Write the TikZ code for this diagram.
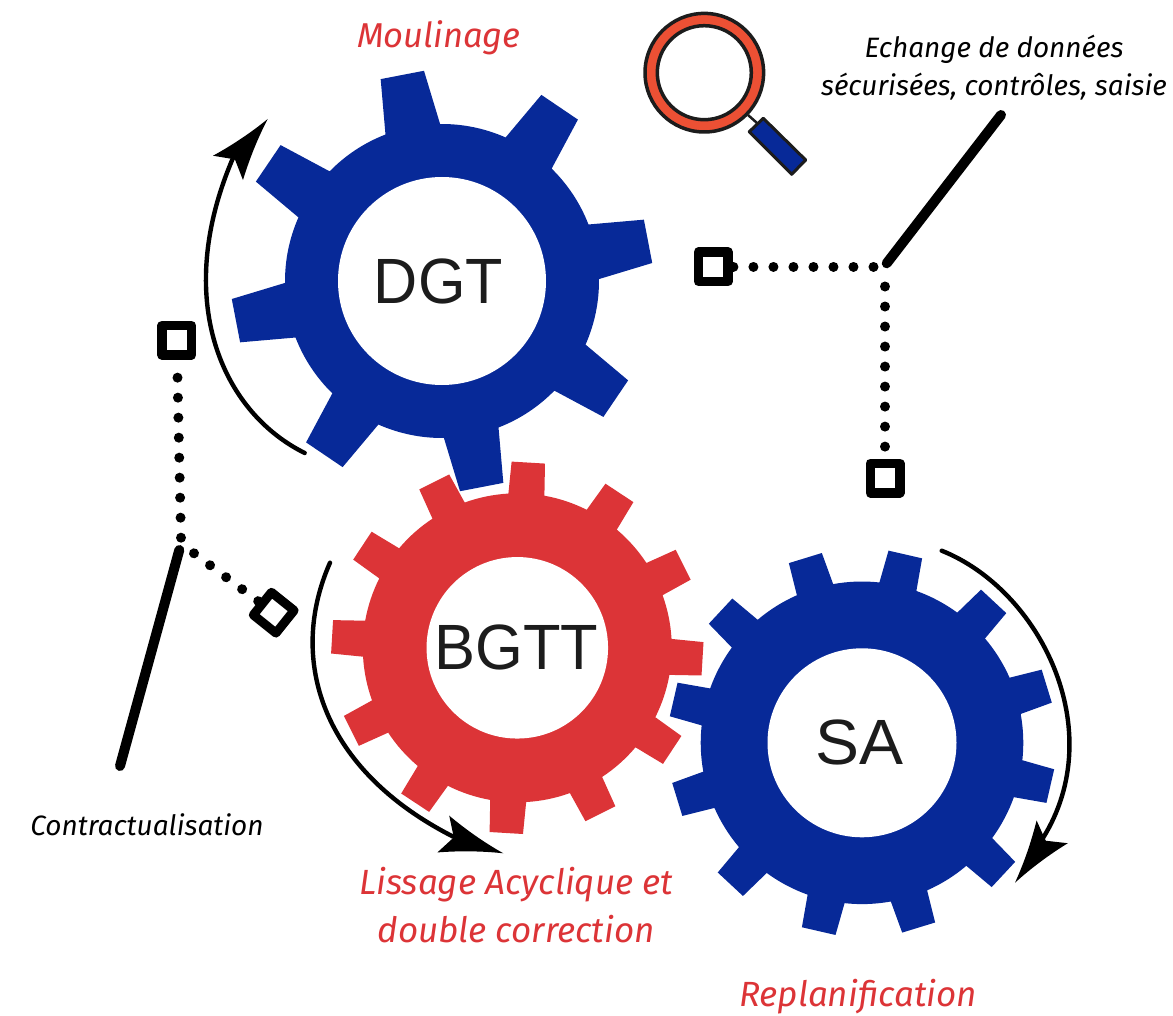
\documentclass[tikz,border=0pt]{standalone}
\usepackage{fontspec}
\setmainfont{Liberation Sans}
\newfontfamily\labfont{Fira Sans}
\usetikzlibrary{arrows.meta}
\definecolor{gearblue}{RGB}{7,41,152}
\definecolor{gearred}{RGB}{220,52,55}
\definecolor{inkdark}{RGB}{28,28,28}
\definecolor{lensorange}{RGB}{236,80,52}
\pgfdeclarearrow{
  name=BarbHead,
  setup code={%
    \pgfarrowssettipend{0pt}%
    \pgfarrowssetlineend{-48pt}%
    \pgfarrowssetvisualbackend{-52pt}%
    \pgfarrowssetbackend{-63pt}},
  drawing code={%
    \pgfpathmoveto{\pgfqpoint{0pt}{0pt}}%
    \pgfpathquadraticcurveto{\pgfqpoint{-31.5pt}{6.5pt}}{\pgfqpoint{-63pt}{19.3pt}}%
    \pgfpathlineto{\pgfqpoint{-52pt}{0pt}}%
    \pgfpathlineto{\pgfqpoint{-63pt}{-19.3pt}}%
    \pgfpathquadraticcurveto{\pgfqpoint{-31.5pt}{-6.5pt}}{\pgfqpoint{0pt}{0pt}}%
    \pgfpathclose
    \pgfusepathqfill}
}
% #1 centre, #2 colour, #3 rim radius, #4 tip radius, #5 teeth, #6 phase, #7 base half angle, #8 tip half angle
\newcommand{\gearfill}[8]{%
  \fill[#2,shift={#1}] (#6+#7:#3pt)
    \foreach \i [evaluate=\i as \a using #6-(\i-1)*360/#5] in {1,...,#5} {
      -- (\a+#7:#3pt) -- (\a+#8:#4pt) -- (\a-#8:#4pt) -- (\a-#7:#3pt)
      arc[start angle=\a-#7,delta angle=-(360/#5-2*#7),radius=#3pt]
    } -- cycle;}
\tikzset{
  hub/.style={circle,fill=white,inner sep=0pt,outer sep=0pt,text=inkdark,font=\fontsize{64}{64}\selectfont},
  port/.style={rectangle,draw=black,fill=white,line width=9.5pt,line join=round,minimum size=29.5pt,inner sep=0pt},
  dots/.style={line width=10pt,line cap=round,dash pattern=on 0.01pt off 20pt},
  bar/.style={line width=10pt,line cap=round},
  turn/.style={line width=4.4pt,line cap=round},
  turnhead/.style={line width=4.4pt,-{BarbHead}},
  redlabel/.style={text=gearred,align=center,inner sep=0pt,font=\labfont\itshape\fontsize{35}{48}\selectfont},
  blacklabel/.style={text=black,align=center,inner sep=0pt,font=\labfont\itshape\fontsize{28}{38}\selectfont},
}
\begin{document}
\begin{tikzpicture}[x=1pt,y=-1pt]
\useasboundingbox (0,0) rectangle (1173,1016);
% gears
\gearfill{(442,281)}{gearblue}{157}{211}{8}{100.9}{10.2}{6}
\gearfill{(517.3,647.8)}{gearred}{154.5}{186.3}{12}{86.6}{6.7}{5.15}
\gearfill{(862,742.8)}{gearblue}{161.3}{194}{12}{77.05}{6.75}{5.1}
\node[hub,minimum size=208pt] (dgt) at (442,281) {\scalebox{0.955}[1]{DGT}\hspace*{7pt}};
\node[hub,minimum size=181.5pt] (bgtt) at (517.3,647.8) {\scalebox{0.96}[1]{BGTT}\hspace*{2pt}};
\node[hub,minimum size=189pt] (sa) at (862,742.8) {\scalebox{1.03}[1]{SA}\hspace*{6pt}};
% rotation arrows
\coordinate (a1s) at (304.7,453);
\coordinate (a1n) at (233,158);
\coordinate (a1b) at (234.9,159.4);
\coordinate (a1t) at (267.7,119);
\draw[turn] (a1s) .. controls (222,412) and (172,300) .. (a1n);
\draw[turnhead] (a1b) -- (a1t);
\coordinate (a2s) at (330,562.7);
\coordinate (a2n) at (453.3,836.7);
\coordinate (a2b) at (453.8,837.4);
\coordinate (a2t) at (503.3,853.3);
\draw[turn] (a2s) .. controls (287,660) and (322,770) .. (a2n);
\draw[turnhead] (a2b) -- (a2t);
\coordinate (a3s) at (941.7,550.7);
\coordinate (a3n) at (1043,838);
\coordinate (a3b) at (1045.7,840.7);
\coordinate (a3t) at (1015,882.7);
\draw[turn] (a3s) .. controls (1040,590) and (1110,730) .. (a3n);
\draw[turnhead] (a3b) -- (a3t);
% ports
\node[port] (p1) at (713.3,266.7) {};
\node[port] (p2) at (885,478) {};
\node[port] (p3) at (176.7,340.3) {};
\node[port,rotate=-38.7,line width=9pt,minimum size=29pt] (p4) at (273.7,612.7) {};
% right structure
\coordinate (r1) at (1001,115);
\coordinate (r2) at (886.7,263.3);
\coordinate (rh) at (873.5,266.7);
\coordinate (rv) at (885,286.5);
\draw[bar] (r1) -- (r2);
\draw[dots] (rh) -- (p1);
\draw[dots] (rv) -- (p2);
% left structure
\coordinate (l1) at (179.3,550);
\coordinate (l2) at (120,766);
\coordinate (lv) at (181,537.7);
\coordinate (ld) at (194,553.3);
\draw[bar] (l1) -- (l2);
\draw[dots] (lv) -- (p3);
\draw[dots] (ld) -- (p4);
% magnifier
\draw[inkdark,line width=2.5pt] (748,115) -- (757,123);
\draw[inkdark,line width=3pt,line join=round,fill=gearblue] (763.3,118.3) -- (805.7,160) -- (791.7,174.3) -- (749.3,131.7) -- cycle;
\fill[lensorange,draw=inkdark,line width=3.5pt] (704.3,72.7) circle[radius=59.3pt];
\fill[white,draw=inkdark,line width=3.5pt] (704.3,72.7) circle[radius=47pt];
% labels
\node[redlabel,font=\labfont\itshape\fontsize{34.5}{48}\selectfont] (t1) at (439,38) {Moulinage};
\node[redlabel] (t2) at (516,905) {Lissage Acyclique et\\double correction};
\node[redlabel] (t3) at (858,997) {Replanification};
\node[blacklabel] (t4) at (994,68) {Echange de données\\sécurisées, contrôles, saisie};
\node[blacklabel] (t5) at (147,825) {Contractualisation};
\end{tikzpicture}
\end{document}
